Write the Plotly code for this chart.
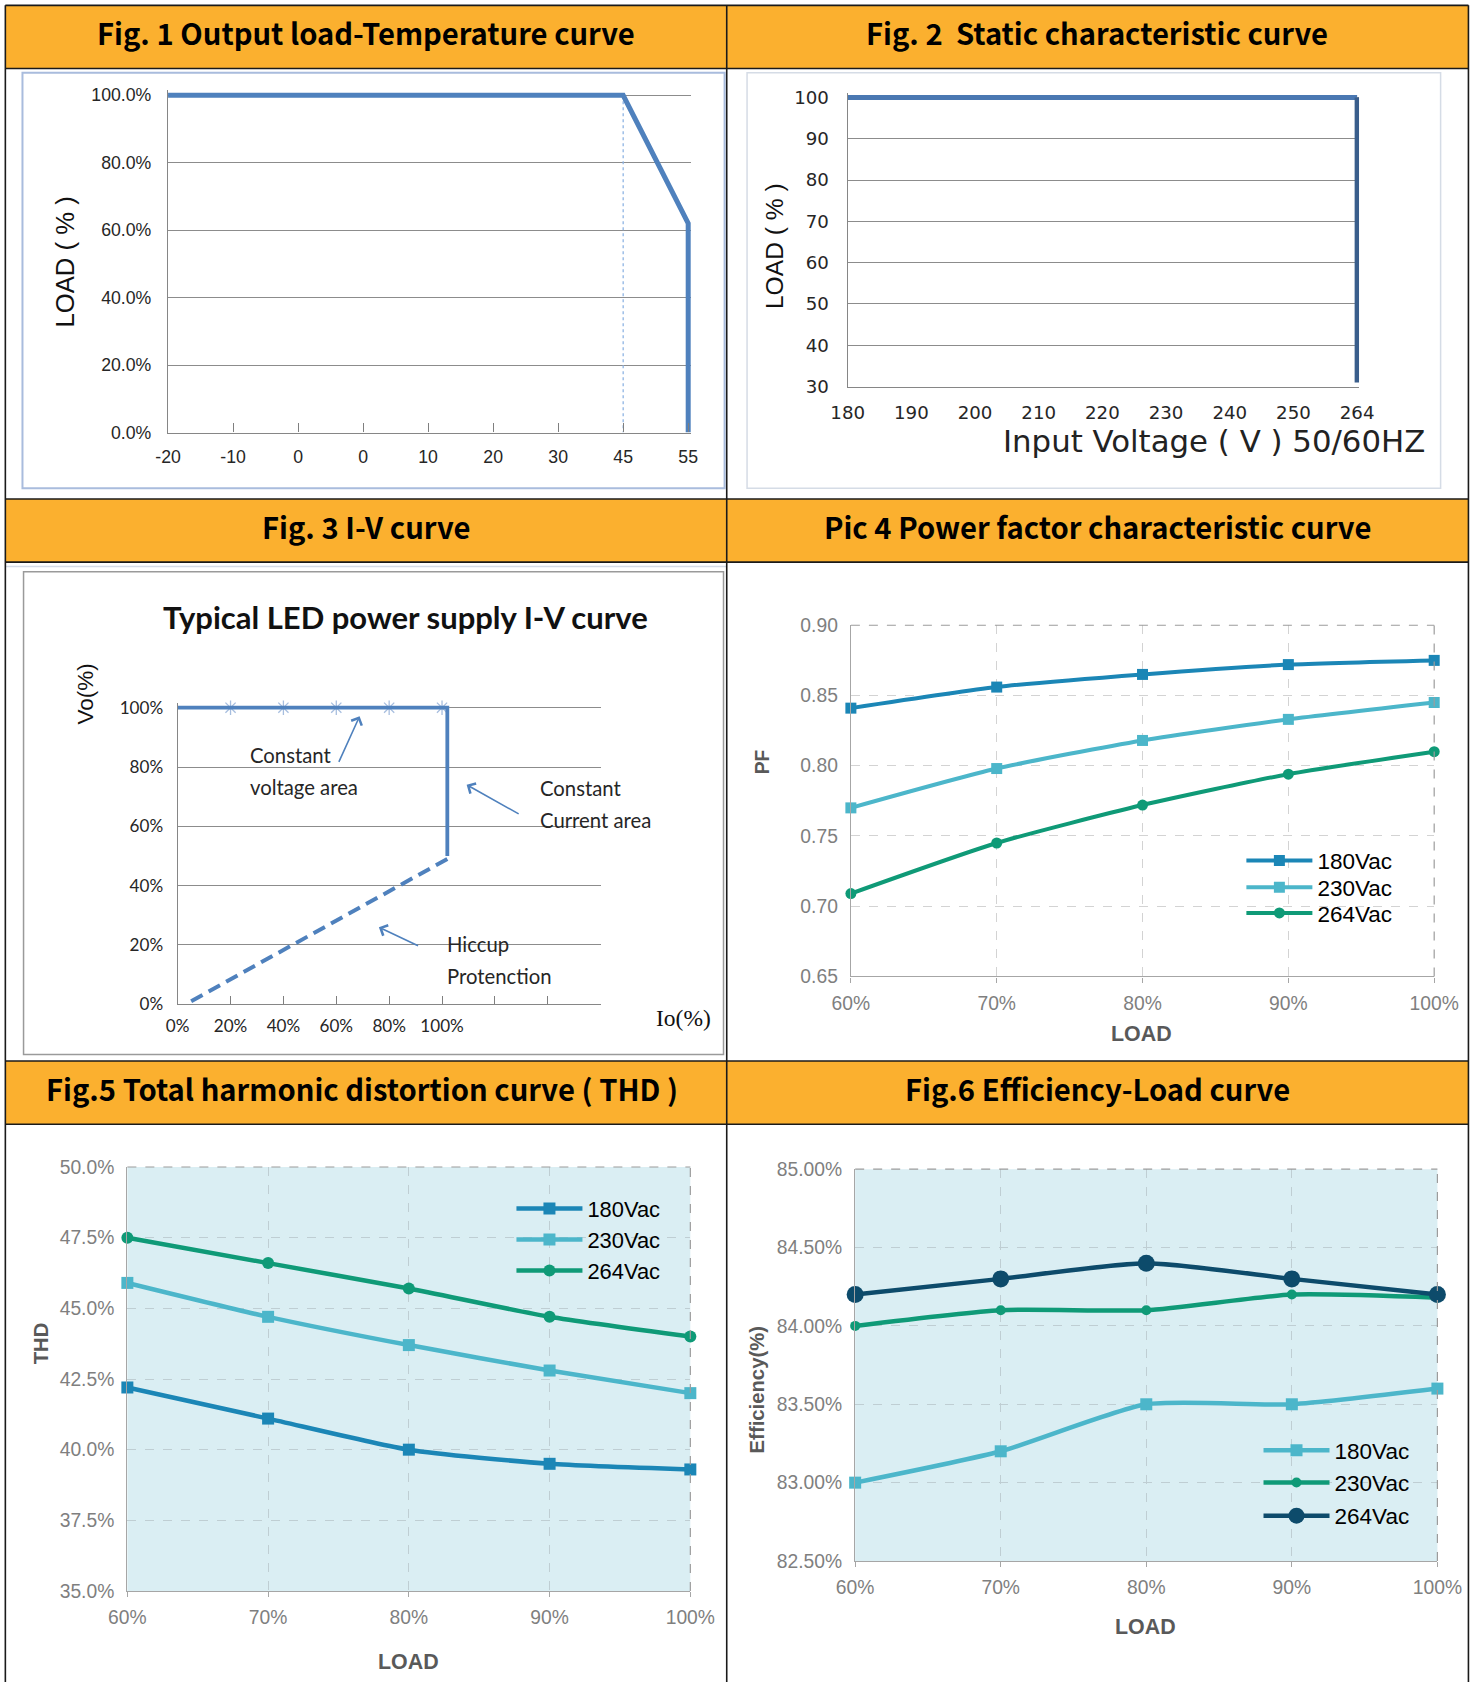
import plotly.graph_objects as go

W, H = 1477, 1682
DW, DH = 1380.0, 1571.0
K = W / DW

def px(x): return x / DW
def py(y): return 1 - y / DH
def fs(s): return round(s * K, 1)

def dom(v1, p1, v2, p2, r0, r1, axis):
    k = (p2 - p1) / (v2 - v1)
    a = p1 + (r0 - v1) * k
    b = p1 + (r1 - v1) * k
    return [px(a), px(b)] if axis == 'x' else [py(a), py(b)]

# ---------------- data ----------------
# Fig 1 Output load - temperature
temp_labels = ["-20", "-10", "0", "0", "10", "20", "30", "45", "55"]
derate_idx = [0, 7, 8, 8]
derate_load = [100, 100, 62, 0]
mark45_idx = [7, 7]
mark45_load = [100, 0]
load_ticks = [0, 20, 40, 60, 80, 100]
load_tick_text = ["0.0%", "20.0%", "40.0%", "60.0%", "80.0%", "100.0%"]

# Fig 2 Static characteristic
volt_labels = ["180", "190", "200", "210", "220", "230", "240", "250", "264"]
static_h_idx = [0, 8]
static_h_load = [100, 100]
static_v_idx = [8, 8]
static_v_load = [100, 31]
static_ticks = [30, 40, 50, 60, 70, 80, 90, 100]

# Fig 3 I-V curve
io_ticks = [0, 20, 40, 60, 80, 100, 120, 140, 160]
io_labels = ["0%", "20%", "40%", "60%", "80%", "100%", "", "", ""]
vo_ticks = [0, 20, 40, 60, 80, 100]
vo_labels = ["0%", "20%", "40%", "60%", "80%", "100%"]
cv_io = [0, 102, 102]
cv_vo = [100, 100, 50]
hic_io = [102, 3]
hic_vo = [49, 0]
star_io = [20, 40, 60, 80, 100]
star_vo = [100, 100, 100, 100, 100]

# Fig 4-6 vs load
load = [60, 70, 80, 90, 100]
load_text = ["60%", "70%", "80%", "90%", "100%"]
series = ["180Vac", "230Vac", "264Vac"]
pf_180 = [0.841, 0.856, 0.865, 0.872, 0.875]
pf_230 = [0.770, 0.798, 0.818, 0.833, 0.845]
pf_264 = [0.709, 0.745, 0.772, 0.794, 0.810]
thd_180 = [42.2, 41.1, 40.0, 39.5, 39.3]
thd_230 = [45.9, 44.7, 43.7, 42.8, 42.0]
thd_264 = [47.5, 46.6, 45.7, 44.7, 44.0]
eff_180 = [83.0, 83.2, 83.5, 83.5, 83.6]
eff_230 = [84.0, 84.1, 84.1, 84.2, 84.18]
eff_264 = [84.2, 84.3, 84.4, 84.3, 84.2]

pf_ticks = [0.65, 0.70, 0.75, 0.80, 0.85, 0.90]
thd_ticks = [35, 37.5, 40, 42.5, 45, 47.5, 50]
thd_text = ["35.0%", "37.5%", "40.0%", "42.5%", "45.0%", "47.5%", "50.0%"]
eff_ticks = [82.5, 83.0, 83.5, 84.0, 84.5, 85.0]
eff_text = ["82.50%", "83.00%", "83.50%", "84.00%", "84.50%", "85.00%"]

headers = ["Fig. 1 Output load-Temperature curve", "Fig. 2  Static characteristic curve",
           "Fig. 3 I-V curve", "Pic 4 Power factor characteristic curve",
           "Fig.5 Total harmonic distortion curve ( THD )", "Fig.6 Efficiency-Load curve"]

# ---------------- styles ----------------
C180, C230, C264 = "#1B86B6", "#4CB6CA", "#0F9A77"
CNAVY = "#0D4B6B"
EXBLUE = "#4F81BD"
ARIAL = "Liberation Sans, Arial, sans-serif"
CALI = "Lato, Liberation Sans, sans-serif"
VERD = "DejaVu Sans, Verdana, sans-serif"
GRAYTXT = "#595959"

# legend placement (text start x, row centre y) in reference display pixels
leg_pos = {
    "4": (1229, [804, 829, 853], 21),
    "5": (547, [1129, 1158, 1187], 20.5),
    "6": (1245, [1355, 1385, 1416], 21),
}
legends = {}
leg_counter = [0]

def new_legend(panel, row):
    leg_counter[0] += 1
    lid = "legend" if leg_counter[0] == 1 else "legend%d" % leg_counter[0]
    xt, rows, size = leg_pos[panel]
    legends[lid] = dict(x=(xt * K - 74) / W, y=py(rows[row]), xref="paper", yref="paper",
                        xanchor="left", yanchor="middle", bgcolor="rgba(0,0,0,0)", borderwidth=0,
                        itemwidth=66, tracegroupgap=0,
                        font=dict(family=ARIAL, size=fs(size), color="#000000"))
    return lid

fig = go.Figure()

# Fig 1
fig.add_trace(go.Scatter(x=mark45_idx, y=mark45_load, mode="lines", xaxis="x", yaxis="y",
                         line=dict(color="#8EB4E3", width=1.3, dash="dot"), showlegend=False))
fig.add_trace(go.Scatter(x=derate_idx, y=derate_load, mode="lines", xaxis="x", yaxis="y",
                         line=dict(color=EXBLUE, width=5), showlegend=False))
# Fig 2
fig.add_trace(go.Scatter(x=static_h_idx, y=static_h_load, mode="lines", xaxis="x2", yaxis="y2",
                         line=dict(color="#4A78B2", width=5), showlegend=False))
fig.add_trace(go.Scatter(x=static_v_idx, y=static_v_load, mode="lines", xaxis="x2", yaxis="y2",
                         line=dict(color="#3A5E8C", width=5), showlegend=False))
# Fig 3
fig.add_trace(go.Scatter(x=star_io, y=star_vo, mode="markers", xaxis="x3", yaxis="y3",
                         marker=dict(symbol="asterisk-open", size=12, color="#A7BEDF",
                                     line=dict(color="#A7BEDF", width=1.3)),
                         cliponaxis=False, showlegend=False))
fig.add_trace(go.Scatter(x=cv_io, y=cv_vo, mode="lines", xaxis="x3", yaxis="y3",
                         line=dict(color=EXBLUE, width=3.8), showlegend=False))
fig.add_trace(go.Scatter(x=hic_io, y=hic_vo, mode="lines", xaxis="x3", yaxis="y3",
                         line=dict(color=EXBLUE, width=4, dash="13px,7px"), showlegend=False))

# Fig 4
for i, (name, ys, col, sym) in enumerate([(series[0], pf_180, C180, "square"), (series[1], pf_230, C230, "square"),
                                          (series[2], pf_264, C264, "circle")]):
    fig.add_trace(go.Scatter(x=load, y=ys, name=name, mode="lines+markers", xaxis="x4", yaxis="y4",
                             line=dict(color=col, width=4, shape="spline", smoothing=0.6),
                             marker=dict(symbol=sym, size=11, color=col), cliponaxis=False,
                             legend=new_legend("4", i)))
# Fig 5
for i, (name, ys, col, sym) in enumerate([(series[0], thd_180, C180, "square"), (series[1], thd_230, C230, "square"),
                                          (series[2], thd_264, C264, "circle")]):
    fig.add_trace(go.Scatter(x=load, y=ys, name=name, mode="lines+markers", xaxis="x5", yaxis="y5",
                             line=dict(color=col, width=4.5, shape="spline", smoothing=0.6),
                             marker=dict(symbol=sym, size=12, color=col), cliponaxis=False,
                             legend=new_legend("5", i)))
# Fig 6
for i, (name, ys, col, sym, sz) in enumerate([(series[0], eff_180, C230, "square", 12),
                                              (series[1], eff_230, C264, "circle", 10),
                                              (series[2], eff_264, CNAVY, "circle", 17)]):
    fig.add_trace(go.Scatter(x=load, y=ys, name=name, mode="lines+markers", xaxis="x6", yaxis="y6",
                             line=dict(color=col, width=4.5, shape="spline", smoothing=0.6),
                             marker=dict(symbol=sym, size=sz, color=col), cliponaxis=False,
                             legend=new_legend("6", i)))

# ---------------- axes ----------------
def base_axis(**kw):
    d = dict(showgrid=False, zeroline=False, showline=True, linecolor="#868686", linewidth=1.3,
             ticks="", fixedrange=True, automargin=False)
    d.update(kw)
    return d

lay = {}
lay["xaxis"] = base_axis(anchor="y", domain=dom(0, 157, 8, 643, 0, 8.05, "x"), range=[0, 8.05],
                         tickmode="array", tickvals=list(range(9)), ticktext=temp_labels,
                         ticks="inside", ticklen=9, tickcolor="#7F7F7F",
                         tickfont=dict(family=ARIAL, size=fs(16.5), color="#262626"), ticklabelstandoff=8)
lay["yaxis"] = base_axis(anchor="x", domain=dom(0, 404, 100, 89, 0, 101.5, "y"), range=[0, 101.5],
                         tickmode="array", tickvals=load_ticks, ticktext=load_tick_text,
                         showgrid=True, gridcolor="#8C8C8C", gridwidth=1.2,
                         tickfont=dict(family=ARIAL, size=fs(16.5), color="#262626"), ticklabelstandoff=12)
lay["xaxis2"] = base_axis(anchor="y2", domain=dom(0, 792, 8, 1268, 0, 8.03, "x"), range=[0, 8.03],
                          tickmode="array", tickvals=list(range(9)), ticktext=volt_labels,
                          tickfont=dict(family=VERD, size=fs(17), color="#262626"), ticklabelstandoff=10)
lay["yaxis2"] = base_axis(anchor="x2", domain=dom(30, 361, 100, 91, 30, 101, "y"), range=[30, 101],
                          tickmode="array", tickvals=static_ticks,
                          showgrid=True, gridcolor="#8C8C8C", gridwidth=1.2,
                          tickfont=dict(family=VERD, size=fs(17), color="#262626"), ticklabelstandoff=14)
lay["xaxis3"] = base_axis(anchor="y3", domain=dom(0, 166, 100, 413, 0, 160, "x"), range=[0, 160],
                          tickmode="array", tickvals=io_ticks, ticktext=io_labels,
                          ticks="inside", ticklen=8, tickcolor="#7F7F7F",
                          tickfont=dict(family=CALI, size=fs(16), color="#262626"), ticklabelstandoff=6)
lay["yaxis3"] = base_axis(anchor="x3", domain=dom(0, 938, 100, 661, 0, 101.5, "y"), range=[0, 101.5],
                          tickmode="array", tickvals=vo_ticks, ticktext=vo_labels,
                          showgrid=True, gridcolor="#8C8C8C", gridwidth=1.2,
                          tickfont=dict(family=CALI, size=fs(16), color="#262626"), ticklabelstandoff=10)

def load_x(anchor, x0, x1):
    return base_axis(anchor=anchor, domain=[px(x0), px(x1)], range=[60, 100], tickmode="array",
                     tickvals=load, ticktext=load_text, showgrid=True, gridcolor="#D3D3D3",
                     griddash="dash", gridwidth=1, linecolor="#A6A6A6", ticks="outside", ticklen=5,
                     tickcolor="#A6A6A6", tickfont=dict(family=ARIAL, size=fs(18), color="#7F7F7F"),
                     ticklabelstandoff=4)

def val_y(anchor, y0, y1, rng, tv, tt):
    return base_axis(anchor=anchor, domain=[py(y0), py(y1)], range=rng, tickmode="array",
                     tickvals=tv, ticktext=tt, showgrid=True, gridcolor="#D3D3D3", griddash="dash",
                     gridwidth=1, linecolor="#A6A6A6",
                     tickfont=dict(family=ARIAL, size=fs(18), color="#7F7F7F"), ticklabelstandoff=8)

lay["xaxis4"] = load_x("y4", 795, 1340)
lay["yaxis4"] = val_y("x4", 912, 584, [0.65, 0.90], pf_ticks, ["%.2f" % v for v in pf_ticks])
lay["xaxis5"] = load_x("y5", 119, 645)
lay["yaxis5"] = val_y("x5", 1486, 1090, [35, 50], thd_ticks, thd_text)
lay["xaxis6"] = load_x("y6", 799, 1343)
lay["yaxis6"] = val_y("x6", 1458, 1092, [82.5, 85], eff_ticks, eff_text)
for a in ["xaxis5", "yaxis5", "xaxis6", "yaxis6"]:
    lay[a]["gridcolor"] = "#BFCED3"

# ---------------- shapes ----------------
shapes = []
ORANGE = "#FBB02F"
for (a, b) in [(5, 64), (466, 525), (991, 1050)]:
    shapes.append(dict(type="rect", xref="paper", yref="paper", x0=px(5), x1=px(1372), y0=py(b), y1=py(a),
                       fillcolor=ORANGE, line=dict(width=0), layer="below"))
# inner chart frames
shapes.append(dict(type="rect", xref="paper", yref="paper", x0=px(21), x1=px(677), y0=py(456), y1=py(68),
                   line=dict(color="#A9BCDD", width=2), layer="below"))
shapes.append(dict(type="rect", xref="paper", yref="paper", x0=px(698), x1=px(1346), y0=py(456), y1=py(68),
                   line=dict(color="#D5DCE6", width=1.5), layer="below"))
shapes.append(dict(type="rect", xref="paper", yref="paper", x0=px(22), x1=px(676), y0=py(985), y1=py(534),
                   line=dict(color="#9A9A9A", width=1.5), layer="below"))
shapes.append(dict(type="line", xref="paper", yref="paper", x0=px(5), x1=px(679), y0=py(529), y1=py(529),
                   line=dict(color="#D3DAE6", width=1.5), layer="below"))
# panel backgrounds and dashed frames
for n in ["5", "6"]:
    shapes.append(dict(type="rect", xref="x%s domain" % n, yref="y%s domain" % n, x0=0, x1=1, y0=0, y1=1,
                       fillcolor="#DAEEF3", line=dict(width=0), layer="below"))
for n in ["4", "5", "6"]:
    shapes.append(dict(type="line", xref="x%s domain" % n, yref="y%s domain" % n, x0=0, x1=1, y0=1, y1=1,
                       line=dict(color="#9C9C9C", width=1.2, dash="dash")))
    shapes.append(dict(type="line", xref="x%s domain" % n, yref="y%s domain" % n, x0=1, x1=1, y0=0, y1=1,
                       line=dict(color="#9C9C9C", width=1.2, dash="dash")))
# table grid lines
for yy in [5, 64, 466, 525, 991, 1050]:
    shapes.append(dict(type="line", xref="paper", yref="paper", x0=px(5), x1=px(1372), y0=py(yy), y1=py(yy),
                       line=dict(color="#1A1A1A", width=1.6)))
for xx in [5, 679, 1372]:
    shapes.append(dict(type="line", xref="paper", yref="paper", x0=px(xx), x1=px(xx), y0=py(5), y1=py(DH),
                       line=dict(color="#1A1A1A", width=1.6)))

# ---------------- annotations ----------------
ann = []
def txt(t, x, y, size, family=ARIAL, color="#000000", angle=0, xanchor="center", yanchor="middle"):
    ann.append(dict(text=t, x=px(x), y=py(y), xref="paper", yref="paper", showarrow=False,
                    font=dict(family=family, size=fs(size), color=color), textangle=angle,
                    xanchor=xanchor, yanchor=yanchor))

HEADF = "Noto Sans CJK SC, Lato, sans-serif"
for t, (x, y) in zip(headers, [(342, 30), (1025, 30), (342, 491), (1025, 491), (338, 1016), (1025, 1016)]):
    txt("<b>%s</b>" % t, x, y, 27.3, family=HEADF)

txt("LOAD ( % )", 61, 245, 24, family=ARIAL, color="#111111", angle=-90)
txt("LOAD ( % )", 723, 230, 23, family=ARIAL, color="#111111", angle=-90)
txt("Input Voltage ( V ) 50/60HZ", 1134, 412, 28.8, family=VERD, color="#222222")

txt("<b>Typical LED power supply I-V curve</b>", 379, 576, 29, family=CALI, color="#111111")
txt("Vo(%)", 80, 648, 21, family=ARIAL, color="#111111", angle=-90)
txt("Io(%)", 639, 951, 22, family="Liberation Serif, serif", color="#111111")
txt("Constant", 232, 705, 19, family=CALI, color="#262626", xanchor="left")
txt("voltage area", 232, 735, 19, family=CALI, color="#262626", xanchor="left")
txt("Constant", 503, 736, 19, family=CALI, color="#262626", xanchor="left")
txt("Current area", 503, 766, 19, family=CALI, color="#262626", xanchor="left")
txt("Hiccup", 416, 882, 19, family=CALI, color="#262626", xanchor="left")
txt("Protenction", 416, 912, 19, family=CALI, color="#262626", xanchor="left")
for (hx, hy, tx, ty) in [(336, 669, 316, 713), (436, 733, 486, 761), (354, 866, 392, 884)]:
    ann.append(dict(text="", x=px(hx), y=py(hy), xref="paper", yref="paper", showarrow=True,
                    ax=(tx - hx) * K, ay=(ty - hy) * K, arrowhead=4, arrowsize=1.4, arrowwidth=1.6,
                    arrowcolor=EXBLUE))

txt("<b>PF</b>", 712, 712, 18, family=ARIAL, color=GRAYTXT, angle=-90)
txt("<b>LOAD</b>", 1067, 966, 20, family=ARIAL, color=GRAYTXT)
txt("<b>THD</b>", 38, 1255, 19, family=ARIAL, color=GRAYTXT, angle=-90)
txt("<b>LOAD</b>", 382, 1552, 20, family=ARIAL, color=GRAYTXT)
txt("<b>Efficiency(%)</b>", 707, 1298, 19, family=ARIAL, color=GRAYTXT, angle=-90)
txt("<b>LOAD</b>", 1070, 1520, 20, family=ARIAL, color=GRAYTXT)

fig.update_layout(
    width=W, height=H, autosize=False, margin=dict(l=0, r=0, t=0, b=0, pad=0, autoexpand=False),
    paper_bgcolor="white", plot_bgcolor="white", showlegend=True,
    shapes=shapes, annotations=ann,
    **legends, **lay
)

fig.write_html("out.html", config={"displayModeBar": False},
               post_script="document.body.style.margin='0';")
